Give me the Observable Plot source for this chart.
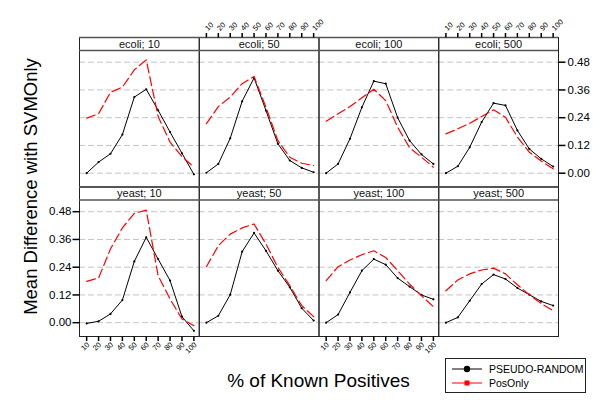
<!DOCTYPE html>
<html><head><meta charset="utf-8">
<script src="https://cdn.jsdelivr.net/npm/d3@7"></script>
<script src="https://cdn.jsdelivr.net/npm/@observablehq/plot@0.6"></script>
<style>body{margin:0;background:#fff;} #chart{width:600px;height:400px;}</style>
</head><body><div id="chart"></div>
<script>
const organisms = ["ecoli", "yeast"];
const sizes = [10, 50, 100, 500];
const knownPositives = [10, 20, 30, 40, 50, 60, 70, 80, 90, 100];
const xTickLabels = ["10", "20", "30", "40", "50", "60", "70", "80", "90", "100"];
const yTicks = [0, 0.12, 0.24, 0.36, 0.48];
const yTickLabels = ["0.00", "0.12", "0.24", "0.36", "0.48"];
const methods = ["PSEUDO-RANDOM", "PosOnly"];

// one list per size (10, 50, 100, 500)
const pseudoEcoli = [
  [0.000, 0.048, 0.084, 0.167, 0.329, 0.363, 0.272, 0.178, 0.086, -0.005],
  [0.002, 0.040, 0.151, 0.311, 0.412, 0.271, 0.127, 0.055, 0.023, 0.004],
  [0.000, 0.040, 0.149, 0.285, 0.398, 0.387, 0.240, 0.141, 0.081, 0.040],
  [0.000, 0.030, 0.112, 0.221, 0.303, 0.293, 0.185, 0.105, 0.062, 0.029]
];
const posOnlyEcoli = [
  [0.238, 0.257, 0.350, 0.372, 0.447, 0.490, 0.245, 0.134, 0.072, 0.026],
  [0.214, 0.288, 0.329, 0.387, 0.418, 0.285, 0.141, 0.069, 0.043, 0.033],
  [0.225, 0.257, 0.288, 0.326, 0.363, 0.314, 0.199, 0.110, 0.069, 0.026],
  [0.170, 0.192, 0.216, 0.245, 0.274, 0.242, 0.156, 0.091, 0.053, 0.019]
];
const pseudoYeast = [
  [-0.003, 0.006, 0.038, 0.098, 0.265, 0.369, 0.275, 0.182, 0.026, -0.035],
  [0.000, 0.030, 0.121, 0.307, 0.388, 0.311, 0.225, 0.153, 0.063, 0.009],
  [0.000, 0.035, 0.131, 0.225, 0.275, 0.251, 0.193, 0.156, 0.120, 0.101],
  [0.000, 0.023, 0.095, 0.167, 0.208, 0.189, 0.150, 0.121, 0.092, 0.074]
];
const posOnlyYeast = [
  [0.179, 0.193, 0.319, 0.410, 0.473, 0.487, 0.203, 0.102, 0.016, -0.013],
  [0.242, 0.333, 0.383, 0.410, 0.427, 0.340, 0.239, 0.160, 0.074, 0.026],
  [0.182, 0.242, 0.271, 0.294, 0.311, 0.282, 0.225, 0.167, 0.117, 0.069],
  [0.138, 0.185, 0.211, 0.228, 0.236, 0.211, 0.164, 0.121, 0.083, 0.052]
];

const seriesBy = {
  ecoli: {"PSEUDO-RANDOM": pseudoEcoli, "PosOnly": posOnlyEcoli},
  yeast: {"PSEUDO-RANDOM": pseudoYeast, "PosOnly": posOnlyYeast}
};
const table = [];
organisms.forEach(org => sizes.forEach((size, si) => methods.forEach(method => {
  seriesBy[org][method][si].forEach((v, i) => table.push({org, size, method, x: knownPositives[i], value: v}));
})));
const pseudoRows = table.filter(d => d.method === methods[0]);
const posRows = table.filter(d => d.method === methods[1]);

const stripData = [];
organisms.forEach(org => sizes.forEach(size => stripData.push({org, size, label: `${org}; ${size}`})));

const leftTicks = yTicks.map((v, i) => ({v, label: yTickLabels[i], size: sizes[0], org: organisms[1]}));
const rightTicks = yTicks.map((v, i) => ({v, label: yTickLabels[i], size: sizes[3], org: organisms[0]}));
const bottomTicks = [], topTicks = [];
[sizes[0], sizes[2]].forEach(size => knownPositives.forEach((v, i) => bottomTicks.push({v, label: xTickLabels[i], size, org: organisms[1]})));
[sizes[1], sizes[3]].forEach(size => knownPositives.forEach((v, i) => topTicks.push({v, label: xTickLabels[i], size, org: organisms[0]})));

const X0 = 4, X1 = 104.5;
const Y0 = -0.0597, Y1 = 0.5868, STRIP = 0.5306;
const font = "'Liberation Sans', Arial, sans-serif";

const tickLeft = {draw(c) { c.moveTo(-7, 0); c.lineTo(0, 0); }};
const tickRight = {draw(c) { c.moveTo(0, 0); c.lineTo(7, 0); }};
const tickDown = {draw(c) { c.moveTo(0, 0); c.lineTo(0, 4.5); }};
const tickUp = {draw(c) { c.moveTo(0, -4.5); c.lineTo(0, 0); }};

const svg = Plot.plot({
  width: 600, height: 400,
  marginLeft: 79, marginRight: 42, marginTop: 37, marginBottom: 64,
  style: {fontFamily: font, fontSize: "11px", background: "#fff", color: "#000"},
  fx: {domain: sizes, padding: 0, axis: null, round: false},
  fy: {domain: organisms, padding: 0, axis: null, round: false},
  x: {domain: [X0, X1], axis: null},
  y: {domain: [Y0, Y1], axis: null},
  marks: [
    Plot.ruleY(yTicks, {stroke: "#c4c4c4", strokeWidth: 1, strokeDasharray: "6,3"}),
    Plot.line(pseudoRows, {x: "x", y: "value", fx: "size", fy: "org", stroke: "#000", strokeWidth: 1}),
    Plot.dot(pseudoRows, {x: "x", y: "value", fx: "size", fy: "org", r: 1.1, fill: "#000", stroke: "none"}),
    Plot.line(posRows, {x: "x", y: "value", fx: "size", fy: "org", stroke: "#ff0000", strokeWidth: 1.2, strokeDasharray: "9,4"}),
    Plot.frame({stroke: "#222", strokeWidth: 1}),
    Plot.ruleY([Y1, STRIP], {stroke: "#555", strokeWidth: 1.6}),
    Plot.text(stripData, {x: () => (X0 + X1) / 2, y: () => (STRIP + Y1) / 2, text: "label", fx: "size", fy: "org", fontSize: 11, fill: "#111"}),
    Plot.dot(leftTicks, {x: () => X0, y: "v", fx: "size", fy: "org", symbol: tickLeft, r: 3, stroke: "#000", fill: "none"}),
    Plot.text(leftTicks, {x: () => X0, y: "v", fx: "size", fy: "org", text: "label", dx: -8, textAnchor: "end", fontSize: 11.5}),
    Plot.dot(rightTicks, {x: () => X1, y: "v", fx: "size", fy: "org", symbol: tickRight, r: 3, stroke: "#000", fill: "none"}),
    Plot.text(rightTicks, {x: () => X1, y: "v", fx: "size", fy: "org", text: "label", dx: 9, textAnchor: "start", fontSize: 11.5}),
    Plot.dot(bottomTicks, {x: "v", y: () => Y0, fx: "size", fy: "org", symbol: tickDown, r: 3, stroke: "#000", fill: "none"}),
    Plot.text(bottomTicks, {x: "v", y: () => Y0, fx: "size", fy: "org", text: "label", dx: 1.5, dy: 7, rotate: -45, textAnchor: "end", fontSize: 7.5}),
    Plot.dot(topTicks, {x: "v", y: () => Y1, fx: "size", fy: "org", symbol: tickUp, r: 3, stroke: "#000", fill: "none"}),
    Plot.text(topTicks, {x: "v", y: () => Y1, fx: "size", fy: "org", text: "label", dx: 0, dy: -8, rotate: -45, textAnchor: "start", fontSize: 7.5})
  ]
});

const s = d3.select(svg);
s.append("text").attr("transform", "translate(37,186.5) rotate(-90)").attr("text-anchor", "middle")
  .attr("font-family", font).attr("font-size", 18.5).attr("fill", "#000").text("Mean Difference with SVMOnly");
s.append("text").attr("x", 318.5).attr("y", 387).attr("text-anchor", "middle")
  .attr("font-family", font).attr("font-size", 19).attr("fill", "#000").text("% of Known Positives");

const lg = s.append("g").attr("font-family", font).attr("font-size", 10.5).attr("text-anchor", "start");
lg.append("rect").attr("x", 445.5).attr("y", 358.5).attr("width", 140).attr("height", 34).attr("fill", "#fff").attr("stroke", "#222");
lg.append("line").attr("x1", 452).attr("x2", 482).attr("y1", 369).attr("y2", 369).attr("stroke", "#000");
lg.append("circle").attr("cx", 467).attr("cy", 369).attr("r", 3.2).attr("fill", "#000");
lg.append("text").attr("x", 489).attr("y", 372.8).attr("text-anchor", "start").attr("fill", "#000").text(methods[0]);
lg.append("line").attr("x1", 452).attr("x2", 482).attr("y1", 383).attr("y2", 383).attr("stroke", "#ff0000");
lg.append("rect").attr("x", 464.5).attr("y", 380.5).attr("width", 5).attr("height", 5).attr("fill", "#ff0000");
lg.append("text").attr("x", 489).attr("y", 386.8).attr("text-anchor", "start").attr("fill", "#000").text(methods[1]);

document.getElementById("chart").appendChild(svg);
</script></body></html>
